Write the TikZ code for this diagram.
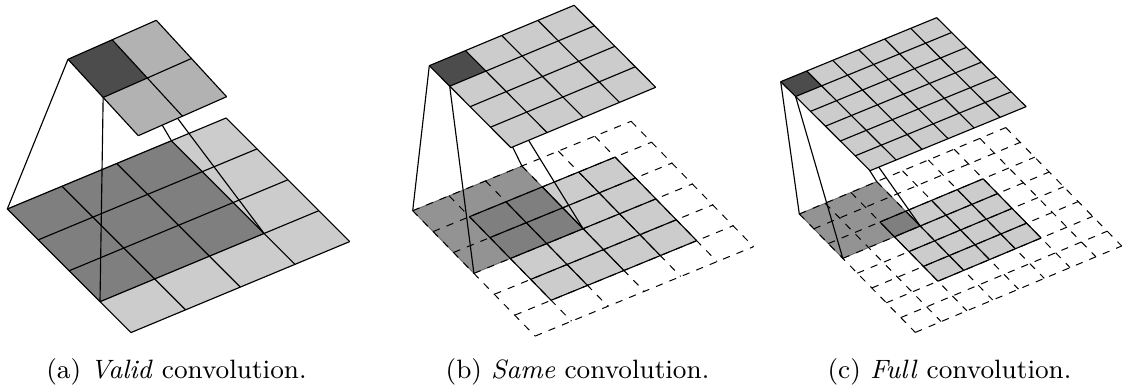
\documentclass[tikz,border=0pt]{standalone}
\def\u{0.3515pt}
\definecolor{cellgrey}{gray}{0.8}
\definecolor{outgrey}{gray}{0.7}
\definecolor{kernelgrey}{gray}{0.3}
\definecolor{shadegrey}{gray}{0.31}
\tikzset{
  plane/.style n args={6}{shift={(#1*\u,-#2*\u)},x={(#3*\u,-#4*\u)},y={(#5*\u,-#6*\u)}},
  link/.style={black,line width=0.4pt},
  rim/.style={black,line width=0.4pt},
  halo/.style={dash pattern=on 2.55pt off 2.55pt,line width=0.35pt},
  shade/.style={fill=shadegrey,fill opacity=0.615,draw=black,draw opacity=0.45,line width=0.3pt},
  caption/.style={anchor=base,inner sep=0pt,font=\fontsize{9.33pt}{11pt}\selectfont},
}
\newcommand{\gridfrom}[4]{%
  \foreach \k in {#1,...,#3} {\draw[\gridstyle] (\k,#2) -- (\k,#4);}
  \foreach \k in {#2,...,#4} {\draw[\gridstyle] (#1,\k) -- (#3,\k);}
}
\newcommand{\patch}[5]{\path[#1] (#2,#3) -- (#4,#3) -- (#4,#5) -- (#2,#5) -- cycle;}
\begin{document}
\begin{tikzpicture}[x=\u,y=-\u]
\useasboundingbox (0,0) rectangle (1124,390);
% ---- panel a
\begin{scope}[plane={7.3}{209}{54.7}{-22.75}{30.9}{30.9}]
  \patch{fill=cellgrey}{0}{0}{4}{4}
  \patch{shade}{0}{0}{3}{3}
  \def\gridstyle{rim}\gridfrom{0}{0}{4}{4}
  \coordinate (aL) at (0,0); \coordinate (aT) at (3,0);
  \coordinate (aB) at (0,3); \coordinate (aR) at (3,3);
\end{scope}
\begin{scope}[plane={68}{59.3}{44.15}{-19.5}{35.15}{38.2}]
  \coordinate (al) at (0,0); \coordinate (at) at (1,0);
  \coordinate (ab) at (0,1); \coordinate (ar) at (1,1);
\end{scope}
\draw[link] (al) -- (aL);
\draw[link] (ab) -- (aB);
\draw[link] (at) -- (aT);
\draw[link] (ar) -- (aR);
\begin{scope}[plane={68}{59.3}{44.15}{-19.5}{35.15}{38.2}]
  \patch{fill=outgrey}{0}{0}{2}{2}
  \patch{fill=kernelgrey}{0}{0}{1}{1}
  \def\gridstyle{rim}\gridfrom{0}{0}{2}{2}
\end{scope}
\node[caption] (capa) at (176.5,379) {(a) \textit{Valid} convolution.};
% ---- panel b
\begin{scope}[plane={412.7}{210.7}{36.4}{-14.9}{20.4}{20.9}]
  \patch{fill=cellgrey}{1}{1}{5}{5}
  \patch{shade}{0}{0}{3}{3}
  \def\gridstyle{halo}\gridfrom{0}{0}{6}{6}
  \def\gridstyle{rim}\gridfrom{1}{1}{5}{5}
  \coordinate (bL) at (0,0); \coordinate (bT) at (3,0);
  \coordinate (bB) at (0,3); \coordinate (bR) at (3,3);
\end{scope}
\begin{scope}[plane={429.3}{65.7}{36.2}{-15.1}{20.4}{20.5}]
  \coordinate (bl) at (0,0); \coordinate (bt) at (1,0);
  \coordinate (bb) at (0,1); \coordinate (br) at (1,1);
\end{scope}
\draw[link] (bl) -- (bL);
\draw[link] (bb) -- (bB);
\draw[link] (bt) -- (bT);
\draw[link] (br) -- (bR);
\begin{scope}[plane={429.3}{65.7}{36.2}{-15.1}{20.4}{20.5}]
  \patch{fill=cellgrey}{0}{0}{4}{4}
  \patch{fill=kernelgrey}{0}{0}{1}{1}
  \def\gridstyle{rim}\gridfrom{0}{0}{4}{4}
\end{scope}
\node[caption] (capb) at (577.5,379) {(b) \textit{Same} convolution.};
% ---- panel c
\begin{scope}[plane={799.3}{214}{25.8}{-10.8}{14.5}{14.8}]
  \patch{fill=cellgrey}{2}{2}{6}{6}
  \patch{shade}{0}{0}{3}{3}
  \def\gridstyle{halo}\gridfrom{0}{0}{8}{8}
  \def\gridstyle{rim}\gridfrom{2}{2}{6}{6}
  \coordinate (cL) at (0,0); \coordinate (cT) at (3,0);
  \coordinate (cB) at (0,3); \coordinate (cR) at (3,3);
\end{scope}
\begin{scope}[plane={780.7}{81.7}{26}{-10.67}{14.9}{14.83}]
  \coordinate (cl) at (0,0); \coordinate (ct) at (1,0);
  \coordinate (cb) at (0,1); \coordinate (cr) at (1,1);
\end{scope}
\draw[link] (cl) -- (cL);
\draw[link] (cb) -- (cB);
\draw[link] (ct) -- (cT);
\draw[link] (cr) -- (cR);
\begin{scope}[plane={780.7}{81.7}{26}{-10.67}{14.9}{14.83}]
  \patch{fill=cellgrey}{0}{0}{6}{6}
  \patch{fill=kernelgrey}{0}{0}{1}{1}
  \def\gridstyle{rim}\gridfrom{0}{0}{6}{6}
\end{scope}
\node[caption] (capc) at (949.5,379) {(c) \textit{Full} convolution.};
\end{tikzpicture}
\end{document}
